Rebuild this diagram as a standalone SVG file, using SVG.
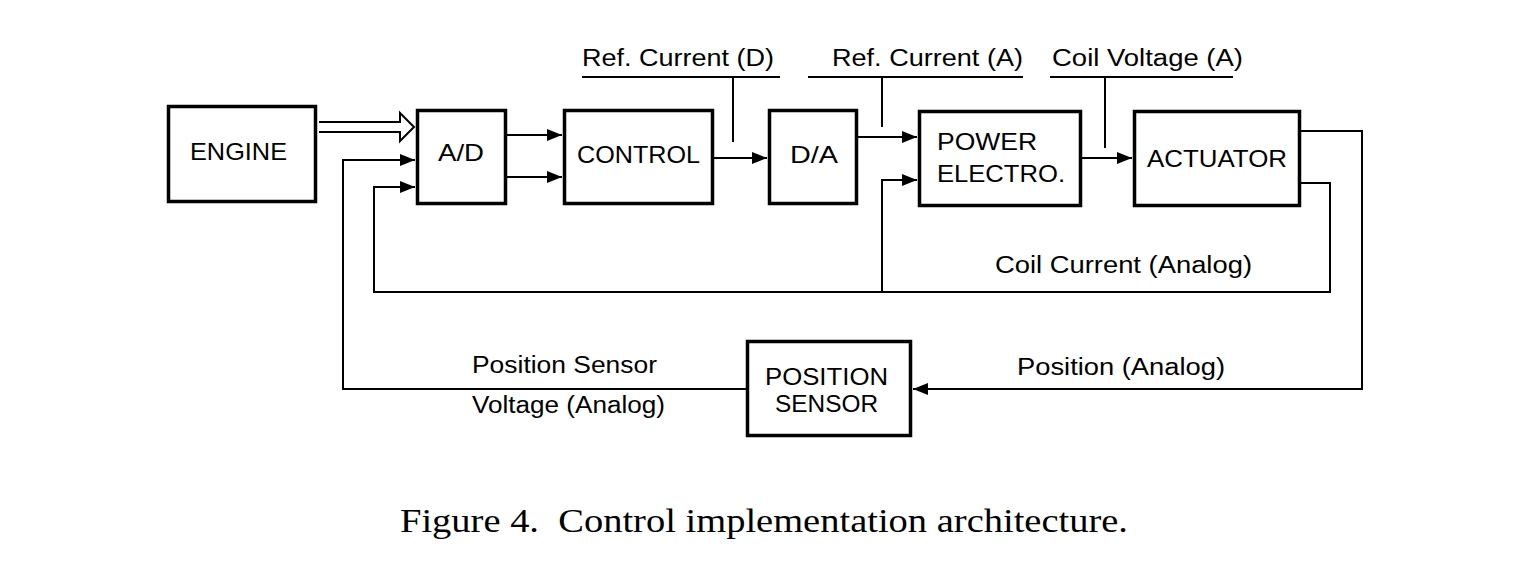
<svg xmlns="http://www.w3.org/2000/svg" width="1531" height="572" viewBox="0 0 1531 572">
<style>
.box{fill:#fff;stroke:#000;stroke-width:3.5}
.ln{fill:none;stroke:#000;stroke-width:2}
.t{font-family:"Liberation Sans",Arial,sans-serif;font-size:23px;fill:#000}
.bt{font-family:"Liberation Sans",Arial,sans-serif;font-size:24px;fill:#000}
.cap{font-family:"Liberation Serif","Times New Roman",serif;font-size:34px;fill:#000}
</style>
<defs>
<marker id="ah" markerUnits="userSpaceOnUse" markerWidth="16" markerHeight="16" viewBox="0 0 16 16" refX="15" refY="8" orient="auto">
<path d="M0,2 L15,8 L0,14 Z" fill="#000"/>
</marker>
</defs>
<rect width="1531" height="572" fill="#fff"/>
<g id="connectors">
<path class="ln" d="M319,122 H400 V113 L414,127 L400,141 V132 H319" fill="#fff"/>
<line class="ln" x1="507" y1="135" x2="562" y2="135" marker-end="url(#ah)"/>
<line class="ln" x1="507" y1="177" x2="562" y2="177" marker-end="url(#ah)"/>
<line class="ln" x1="714" y1="158" x2="767" y2="158" marker-end="url(#ah)"/>
<line class="ln" x1="858" y1="137" x2="917" y2="137" marker-end="url(#ah)"/>
<line class="ln" x1="1082" y1="158" x2="1132" y2="158" marker-end="url(#ah)"/>
<path class="ln" d="M1301,131 H1362 V389 H913" marker-end="url(#ah)"/>
<path class="ln" d="M1301,183 H1330 V292 H374 V187 H415" marker-end="url(#ah)"/>
<path class="ln" d="M882,292 V180 H917" marker-end="url(#ah)"/>
<path class="ln" d="M746,389 H343 V160 H415" marker-end="url(#ah)"/>
<path class="ln" d="M582,77 H780 M733,77 V142"/>
<path class="ln" d="M808,77 H1023 M882,77 V127"/>
<path class="ln" d="M1050,77 H1233 M1105,77 V148"/>
</g>
<g id="engine">
<rect class="box" x="168.5" y="106.5" width="147" height="95"/>
<text class="bt" x="190" y="160" textLength="97" lengthAdjust="spacingAndGlyphs">ENGINE</text>
</g>
<g id="ad">
<rect class="box" x="417.5" y="110.5" width="88" height="93"/>
<text class="bt" x="438" y="161" textLength="46" lengthAdjust="spacingAndGlyphs">A/D</text>
</g>
<g id="control">
<rect class="box" x="564.5" y="110.5" width="148" height="93"/>
<text class="bt" x="577" y="163" textLength="123" lengthAdjust="spacingAndGlyphs">CONTROL</text>
</g>
<g id="da">
<rect class="box" x="769.5" y="110.5" width="87" height="93"/>
<text class="bt" x="790" y="163" textLength="48" lengthAdjust="spacingAndGlyphs">D/A</text>
</g>
<g id="power">
<rect class="box" x="919.5" y="111.5" width="161" height="94"/>
<text class="bt" x="937" y="150" textLength="100" lengthAdjust="spacingAndGlyphs">POWER</text>
<text class="bt" x="937" y="182" textLength="128" lengthAdjust="spacingAndGlyphs">ELECTRO.</text>
</g>
<g id="actuator">
<rect class="box" x="1134.5" y="111.5" width="165" height="94"/>
<text class="bt" x="1147" y="167" textLength="140" lengthAdjust="spacingAndGlyphs">ACTUATOR</text>
</g>
<g id="position-sensor">
<rect class="box" x="747.5" y="341.5" width="163" height="94"/>
<text class="bt" x="765" y="385" textLength="123" lengthAdjust="spacingAndGlyphs">POSITION</text>
<text class="bt" x="775" y="412" textLength="103" lengthAdjust="spacingAndGlyphs">SENSOR</text>
</g>
<g id="labels">
<text class="t" x="582" y="66" textLength="192" lengthAdjust="spacingAndGlyphs">Ref. Current (D)</text>
<text class="t" x="832" y="66" textLength="191" lengthAdjust="spacingAndGlyphs">Ref. Current (A)</text>
<text class="t" x="1052" y="66" textLength="191" lengthAdjust="spacingAndGlyphs">Coil Voltage (A)</text>
<text class="t" x="995" y="273" textLength="257" lengthAdjust="spacingAndGlyphs">Coil Current (Analog)</text>
<text class="t" x="1017" y="375" textLength="208" lengthAdjust="spacingAndGlyphs">Position (Analog)</text>
<text class="t" x="472" y="373" textLength="185" lengthAdjust="spacingAndGlyphs">Position Sensor</text>
<text class="t" x="472" y="413" textLength="193" lengthAdjust="spacingAndGlyphs">Voltage (Analog)</text>
<text class="cap" x="400" y="532" textLength="728" lengthAdjust="spacingAndGlyphs">Figure 4.&#160; Control implementation architecture.</text>
</g>
</svg>
